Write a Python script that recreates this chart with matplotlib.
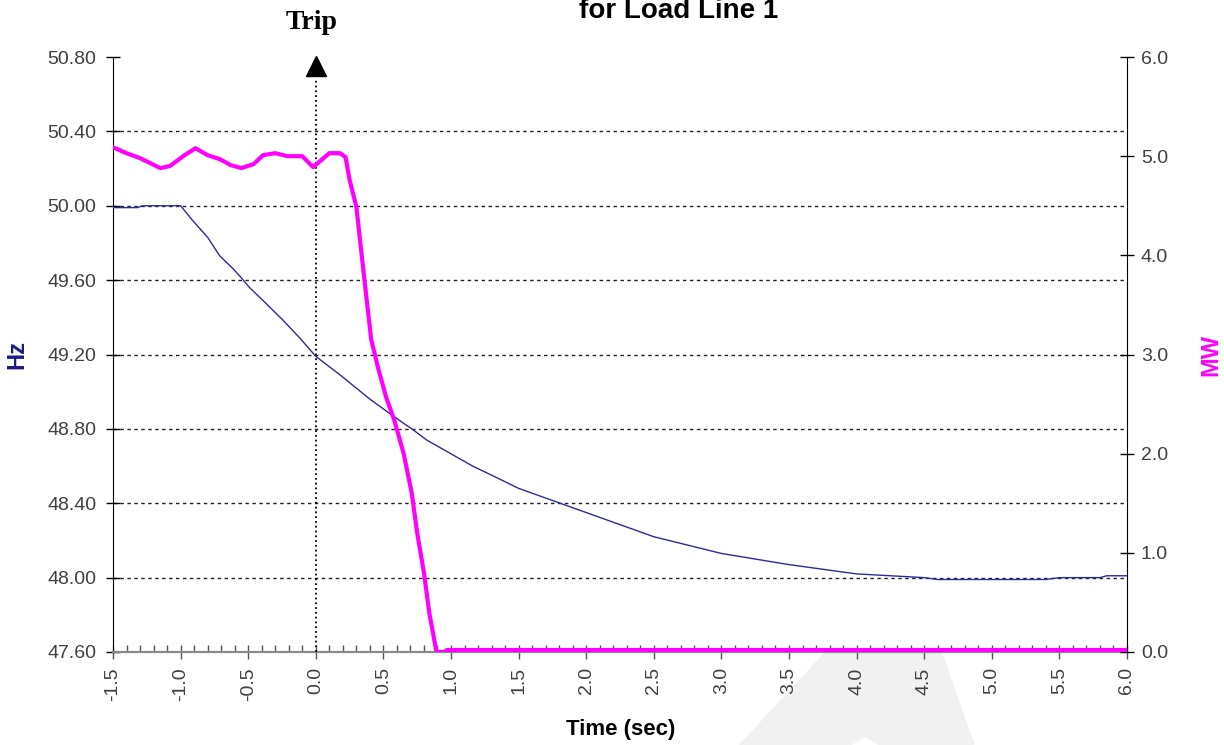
import matplotlib
matplotlib.use('Agg')
import matplotlib.pyplot as plt
import matplotlib.transforms as mtransforms
from matplotlib.patches import Polygon
from matplotlib.ticker import MultipleLocator, FormatStrFormatter

# frequency (Hz)
hz_time = [-1.5, -1.32, -1.28, -1.17, -1.0, -0.91, -0.80, -0.71, -0.61, -0.56,
           -0.49, -0.39, -0.25, -0.12, 0.0, 0.18, 0.40, 0.58, 0.72, 0.82, 0.99,
           1.16, 1.36, 1.5, 2.0, 2.5, 3.0, 3.5, 4.0, 4.5, 4.6, 5.4, 5.5, 5.8,
           5.85, 6.0]
hz_vals = [49.99, 49.99, 50.00, 50.00, 50.00, 49.92, 49.83, 49.73, 49.66, 49.62,
           49.56, 49.49, 49.39, 49.29, 49.19, 49.09, 48.96, 48.865, 48.795, 48.74,
           48.67, 48.60, 48.53, 48.48, 48.35, 48.22, 48.13, 48.07, 48.02, 48.00,
           47.99, 47.99, 48.00, 48.00, 48.01, 48.01]

# load (MW)
mw_time = [-1.5, -1.40, -1.30, -1.15, -1.08, -0.97, -0.89, -0.80, -0.71, -0.63,
           -0.55, -0.46, -0.39, -0.30, -0.21, -0.10, -0.02, 0.10, 0.18, 0.22,
           0.25, 0.30, 0.36, 0.41, 0.46, 0.52, 0.58, 0.65, 0.71, 0.75, 0.80,
           0.84, 0.89, 0.90, 0.95, 0.97, 6.0]
mw_vals = [5.09, 5.03, 4.98, 4.88, 4.90, 5.01, 5.08, 5.01, 4.97, 4.91,
           4.88, 4.92, 5.01, 5.03, 5.00, 5.00, 4.89, 5.03, 5.03, 4.99,
           4.76, 4.49, 3.75, 3.15, 2.87, 2.57, 2.34, 2.00, 1.60, 1.20, 0.80,
           0.39, 0.02, 0.0, 0.0, 0.02, 0.02]

hz_ticks = [47.6, 48.0, 48.4, 48.8, 49.2, 49.6, 50.0, 50.4, 50.8]
trip_time = 0.0

plt.rcParams['font.family'] = ['Liberation Sans', 'DejaVu Sans']

W, H = 1224, 745
fig = plt.figure(figsize=(W / 100, H / 100), dpi=100, facecolor='white')

# faint watermark behind the plot area
wm = Polygon([(725 / W, 1 - 760 / H), (825 / W, 1 - 652 / H), (942 / W, 1 - 652 / H),
              (980 / W, 1 - 760 / H), (904 / W, 1 - 760 / H), (865 / W, 1 - 737 / H),
              (826 / W, 1 - 760 / H)],
             closed=True, transform=fig.transFigure, facecolor='#f1f1f1',
             edgecolor='none', zorder=-1)
fig.patches.append(wm)

ax = fig.add_axes([113 / W, 1 - 652 / H, 1014 / W, 595 / H])
ax.set_facecolor('white')
ax2 = ax.twinx()

ax.plot(hz_time, hz_vals, color='#2b2b9c', lw=1.0, zorder=3)
ax2.plot(mw_time, mw_vals, color='#ff00ff', lw=3.0, solid_joinstyle='round', zorder=3)

ax.set_xlim(-1.5, 6.0)
ax.set_ylim(47.6, 50.8)
ax2.set_ylim(0, 6)

ax.set_yticks(hz_ticks)
ax.yaxis.set_major_formatter(FormatStrFormatter('%.2f'))
ax2.yaxis.set_major_locator(MultipleLocator(1.0))
ax2.yaxis.set_major_formatter(FormatStrFormatter('%.1f'))
ax.xaxis.set_major_locator(MultipleLocator(0.5))
ax.xaxis.set_minor_locator(MultipleLocator(0.1))
ax.xaxis.set_major_formatter(FormatStrFormatter('%.1f'))

# dashed horizontal grid, not on the top and bottom edges
ax.yaxis.grid(True, color='#222222', lw=1.0, ls=(0, (2.5, 2.5)))
ax.set_axisbelow(True)
gl = ax.get_ygridlines()
gl[0].set_visible(False)
gl[-1].set_visible(False)

# spines
for a in (ax, ax2):
    a.spines['top'].set_visible(False)
ax.spines['left'].set_color('black')
ax2.spines['right'].set_color('black')
ax.spines['bottom'].set_color('#8a8a8a')
ax.spines['bottom'].set_linewidth(1.6)
ax2.spines['bottom'].set_visible(False)
ax.spines['right'].set_visible(False)
ax2.spines['left'].set_visible(False)

lab = '#404040'
ax.tick_params(axis='y', direction='inout', length=10, width=1, color='black',
               labelsize=14, labelcolor=lab, pad=7)
ax2.tick_params(axis='y', direction='inout', length=10, width=1, color='black',
                labelsize=14, labelcolor=lab, pad=5)
ax.tick_params(axis='x', which='major', direction='inout', length=10, width=1,
               color='#555555', labelsize=14, labelcolor=lab, pad=6, labelrotation=90)
ax.tick_params(axis='x', which='minor', direction='in', length=5, width=1,
               color='#555555')

ax.set_ylabel('Hz', color='#1a1a8c', fontsize=17, fontweight='bold')
ax.yaxis.set_label_coords(-0.083, 0.5)
ax2.set_ylabel('MW', color='#ff00ff', fontsize=17, fontweight='bold', rotation=90)
ax2.yaxis.set_label_coords(1.071, 0.5)
ax.set_xlabel('Time (sec)', fontsize=16, fontweight='bold')
ax.xaxis.set_label_coords(0.501, -0.113)

# trip marker: dotted vertical line with arrow head
blend = mtransforms.blended_transform_factory(ax.transData, ax.transAxes)
ax.plot([trip_time, trip_time], [0, 0.961], transform=blend, color='black',
        ls=':', lw=1.3, zorder=4, clip_on=False)
ax.plot([trip_time], [0.985], transform=blend, marker='^', markersize=15,
        color='black', clip_on=False, zorder=5)
fig.text(312 / W, 1 - 29 / H, 'Trip', family=['Liberation Serif', 'DejaVu Serif'],
         fontweight='bold', fontsize=20, ha='center', va='baseline')

fig.text(679 / W, 1 - 18 / H, 'for Load Line 1', fontsize=20, fontweight='bold',
         ha='center', va='baseline')

fig.savefig('out.png', dpi=100, facecolor='white')
